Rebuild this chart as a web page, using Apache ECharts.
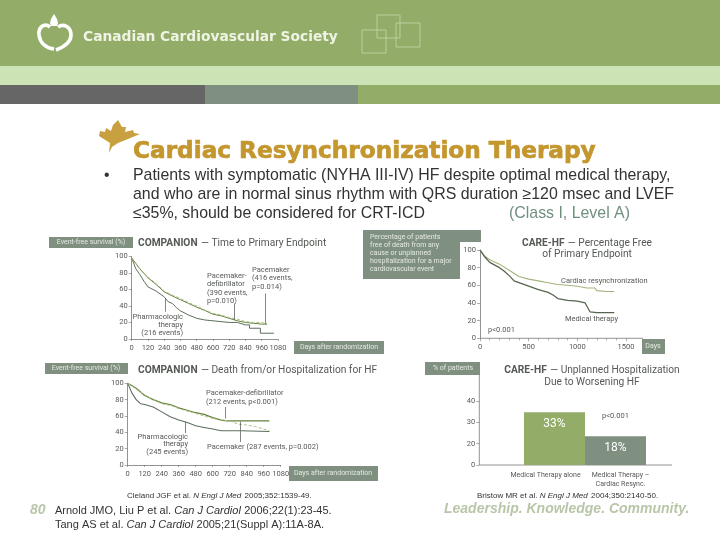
<!DOCTYPE html>
<html><head><meta charset="utf-8">
<style>html,body{margin:0;padding:0;background:#fff}#c{width:720px;height:540px}</style>
<script src="https://cdn.jsdelivr.net/npm/echarts@6/dist/echarts.min.js"></script>
</head><body><div id="c"></div>
<script>
// ---- data ----
const panelATicks = [0,120,240,360,480,600,720,840,960,1080];
const aDefib = [[0,98],[60,85],[120,74],[180,66],[240,57],[300,52],[360,47.5],[420,43],[480,38.5],[540,34.5],[600,30],[660,28],[720,25],[780,22],[840,20],[900,19],[960,18],[1000,18]];
const aPacer = [[0,98],[60,84],[120,75],[180,67],[240,58],[300,53],[360,49],[420,44],[480,40],[540,35],[600,31],[660,29],[720,26],[780,24],[840,21],[900,20],[960,20],[1000,18]];
const aPharm = [[0,98],[30,85],[60,78],[90,70],[120,63],[180,58],[240,51],[270,45],[300,43],[330,38],[360,34],[420,29],[480,25],[540,23],[600,22],[660,21],[720,20],[780,20],[840,17],[870,17],[870,13],[950,13],[950,7],[1050,7]];
const bDefib = [[0,100],[60,94],[120,85],[180,80],[240,76],[300,74],[360,70],[420,67],[480,64],[540,62],[600,58],[660,55],[700,54],[1000,54]];
const bPacer = [[0,100],[60,93],[120,86],[180,80],[240,75],[300,73],[360,69],[420,66],[480,63],[540,60],[600,57],[660,55],[720,54],[780,50],[840,49],[900,47],[960,44],[1000,42]];
const bPharm = [[0,100],[30,88],[60,80],[90,75],[120,74],[180,71],[240,65],[300,59],[360,55],[420,52],[480,48],[540,46],[600,44],[660,42],[800,42],[1000,41]];
const cCrt = [[0,100],[50,93],[100,89],[200,84],[300,77],[400,70],[500,67],[600,65],[700,63],[800,61],[900,60],[1000,59],[1100,57],[1180,57],[1200,54],[1300,53],[1380,53]];
const cMed = [[0,100],[50,92],[100,86],[200,80],[250,76],[300,71],[350,65],[400,63],[500,59],[600,55],[700,52],[750,49],[800,45],[900,43],[1000,42],[1080,40],[1110,34],[1130,30],[1200,29],[1380,29]];
const dCategories = ['', 'Medical Therapy alone', 'Medical Therapy –\nCardiac Resync.', ''];
const dValues = [null, 33, 18, null];
const dLabels = ['', '33%', '18%', ''];
const dTickLabels = ['0','20','30','40'];

const GREEN='#93ad69', SAGE='#7f9080', DARK='#5d6f5e', OLIVE='#64803f', LIGHT='#b0bf84', INK='#555a55';
const FONT='Roboto', AX={color:INK,fontSize:7.5,fontFamily:FONT,margin:5};

function gridAt(l,t,r,b){return {left:l,top:t,width:r-l,height:b-t,containLabel:false};}
function xVal(i,max,interval,extra){return Object.assign({type:'value',gridIndex:i,min:0,max,interval,splitLine:{show:false},
  axisLine:{onZero:false,lineStyle:{color:'#777',width:.8}},axisTick:{length:2,lineStyle:{color:'#777',width:.6}},axisLabel:Object.assign({},AX,{hideOverlap:false,formatter:v=>String(v)})},extra||{});}
function yVal(i){return {type:'value',gridIndex:i,min:0,max:100,interval:20,splitLine:{show:false},
  axisLine:{show:true,lineStyle:{color:'#777',width:.8}},axisTick:{show:true,length:3,lineStyle:{color:'#777',width:.6}},axisLabel:Object.assign({},AX,{margin:4})};}
function line(i,data,color,width,dash,leaders){return {type:'line',xAxisIndex:i,yAxisIndex:i,data,symbol:'none',silent:true,
  lineStyle:{color,width,type:dash?[3,2]:'solid'},
  markLine:leaders?{silent:true,symbol:'none',label:{show:false},lineStyle:{color:'#666',width:.8,type:'solid'},
    data:leaders.map(p=>[{coord:[p[0],p[1]]},{coord:[p[0],p[2]]}])}:undefined};}

const T=(x,y,text,o)=>({type:'text',x,y,silent:true,style:Object.assign({text,fill:INK,font:'7.5px '+FONT,textVerticalAlign:'middle',textAlign:'left'},o||{})});
const R=(x,y,w,h,fill)=>({type:'rect',silent:true,shape:{x,y,width:w,height:h},style:{fill}});
const L=(x1,y1,x2,y2,c,w)=>({type:'line',silent:true,shape:{x1,y1,x2,y2},style:{stroke:c||'#777',lineWidth:w||.8}});
const S=(x,y,w,h)=>({type:'rect',silent:true,shape:{x,y,width:w,height:h},style:{fill:'none',stroke:'#c6d6a8',lineWidth:.8}});
const B=(x1,y1,cpx1,cpy1,cpx2,cpy2,x2,y2)=>({type:'bezierCurve',silent:true,shape:{x1,y1,cpx1,cpy1,cpx2,cpy2,x2,y2},style:{fill:'none',stroke:'#fff',lineWidth:3.6}});
const BODY={font:'15.9px "Liberation Sans"',fill:'#333'};
const BOXT={fill:'#e4e9e2',font:'7px '+FONT};
const rich={a:{font:'8px "Liberation Sans"',fill:'#333'},b:{font:'italic 8px "Liberation Sans"',fill:'#333'},
  c:{font:'11px "Liberation Sans"',fill:'#333'},d:{font:'italic 11px "Liberation Sans"',fill:'#333'},
  v:{font:'bold 10.2px '+FONT,fill:INK},w:{font:'10.2px '+FONT,fill:INK}};

const graphic=[
  R(0,0,720,66,GREEN),R(0,66,720,19,'#cbe3b5'),R(0,85,205,19,'#666666'),R(205,85,153,19,SAGE),R(358,85,362,19,GREEN),
  S(362,30,24,23),S(377,15,23,23),S(396,23,24,24),
  B(50,27,44,22,38,28,39,35),B(39,35,40,43,46,48,54,49),
  B(58,27,64,23,71,27,71,35),B(71,35,71,43,64,47,56,50),
  {type:'polygon',silent:true,shape:{points:[[54,14],[57,19],[58,23],[57,26],[51,26],[50,23],[51,19]]},style:{fill:'#fff'}},
  T(83,37,'Canadian Cardiovascular Society',{font:'bold 13.8px "DejaVu Sans"',fill:'#eef3e4'}),
  {type:'polygon',silent:true,shape:{points:[[109,153],[110,143],[99,136],[100,131],[105,132],[106,128],[111,131],[113,125],[118,120],[122,127],[126,127],[125,132],[133,130],[134,133],[140,134],[128,139],[118,143],[112,147]]},style:{fill:'#c9a03f'}},
  T(133,152,'Cardiac Resynchronization Therapy',{font:'bold 23.2px "DejaVu Sans"',fill:'#c4962e',stroke:'#c4962e',lineWidth:.7}),
  T(104,176,'•',BODY),
  T(133,176,'Patients with symptomatic (NYHA III-IV) HF despite optimal medical therapy,',BODY),
  T(133,195,'and who are in normal sinus rhythm with QRS duration ≥120 msec and LVEF',BODY),
  T(133,214,'≤35%, should be considered for CRT-ICD',BODY),
  T(509,214,'(Class I, Level A)',Object.assign({},BODY,{fill:'#6f8f7f'})),
  // label boxes
  R(49,237,84,11,SAGE),R(294,341,90,13,SAGE),R(45,363,83,11,SAGE),R(289,466,89,15,SAGE),
  R(363,230,118,12,SAGE),R(363,242,97,37,SAGE),R(642,339,23,15,SAGE),R(425,362,55,13,SAGE),
  T(91,242.5,'Event-free survival (%)',Object.assign({textAlign:'center'},BOXT)),
  T(339,347.5,'Days after randomization',Object.assign({textAlign:'center'},BOXT)),
  T(86,368.5,'Event-free survival (%)',Object.assign({textAlign:'center'},BOXT)),
  T(333,473.5,'Days after randomization',Object.assign({textAlign:'center'},BOXT)),
  T(653,346.5,'Days',Object.assign({textAlign:'center'},BOXT)),
  T(453,368.5,'% of patients',Object.assign({textAlign:'center'},BOXT)),
  T(370,237,'Percentage of patients',BOXT),T(370,245,'free of death from any',BOXT),
  T(370,253,'cause or unplanned',BOXT),T(370,261,'hospitalization for a major',BOXT),T(370,269,'cardiovascular event',BOXT),
  // panel titles
  {type:'text',x:138,y:243,silent:true,style:{text:'{v|COMPANION} {w|— Time to Primary Endpoint}',rich,textVerticalAlign:'middle'}},
  {type:'text',x:138,y:370,silent:true,style:{text:'{v|COMPANION} {w|— Death from/or Hospitalization for HF}',rich,textVerticalAlign:'middle'}},
  {type:'text',x:587,y:243,silent:true,style:{text:'{v|CARE-HF} {w|— Percentage Free}',rich,textAlign:'center',textVerticalAlign:'middle'}},
  T(587,254,'of Primary Endpoint',{font:'10.2px '+FONT,textAlign:'center'}),
  {type:'text',x:592,y:370,silent:true,style:{text:'{v|CARE-HF} {w|— Unplanned Hospitalization}',rich,textAlign:'center',textVerticalAlign:'middle'}},
  T(592,382,'Due to Worsening HF',{font:'10.2px '+FONT,textAlign:'center'}),
  // annotations
  T(252,270,'Pacemaker'),T(252,278,'(416 events,'),T(252,287,'p=0.014)'),
  T(207,276,'Pacemaker-'),T(207,284,'defibrillator'),T(207,293,'(390 events,'),T(207,301,'p=0.010)'),
  T(183,317,'Pharmacologic',{textAlign:'right'}),T(183,325,'therapy',{textAlign:'right'}),T(183,333,'(216 events)',{textAlign:'right'}),
  T(206,393,'Pacemaker-defibrillator'),T(206,402,'(212 events, p<0.001)'),
  T(188,437,'Pharmacologic',{textAlign:'right'}),T(188,444,'therapy',{textAlign:'right'}),T(188,452,'(245 events)',{textAlign:'right'}),
  T(207,447,'Pacemaker (287 events, p=0.002)'),
  T(561,281,'Cardiac resynchronization'),T(565,319,'Medical therapy'),T(488,330,'p<0.001'),
  T(602,416,'p<0.001'),
  // axis extensions
  L(480,338.3,643,338.3),L(479.3,375,479.3,465),L(479.3,465,672,465),
  // footer
  {type:'text',x:127,y:496,silent:true,style:{text:'{a|Cleland JGF et al. }{b|N Engl J Med} {a|2005;352:1539-49.}',rich,textVerticalAlign:'middle'}},
  {type:'text',x:477,y:496,silent:true,style:{text:'{a|Bristow MR et al. }{b|N Engl J Med} {a|2004;350:2140-50.}',rich,textVerticalAlign:'middle'}},
  T(30,510,'80',{font:'italic bold 14px "Liberation Sans"',fill:'#b9c6a9'}),
  {type:'text',x:55,y:511,silent:true,style:{text:'{c|Arnold JMO, Liu P et al. }{d|Can J Cardiol} {c|2006;22(1):23-45.}',rich,textVerticalAlign:'middle'}},
  {type:'text',x:55,y:525,silent:true,style:{text:'{c|Tang AS et al. }{d|Can J Cardiol} {c|2005;21(Suppl A):11A-8A.}',rich,textVerticalAlign:'middle'}},
  T(444,509,'Leadership. Knowledge. Community.',{font:'italic bold 14px "Liberation Sans"',fill:'#b9c6a9'})
];

const option={animation:false,backgroundColor:'#fff',graphic,
  grid:[gridAt(131.7,256.3,278,339),gridAt(127.7,383.3,280.7,465),gridAt(480,250,626,338.3),gridAt(463,401,707,465)],
  xAxis:[
    xVal(0,panelATicks[panelATicks.length-1],120),
    xVal(1,panelATicks[panelATicks.length-1],120),
    xVal(2,1500,500,{axisLine:{show:false},axisTick:{length:3,lineStyle:{color:'#777',width:.6}},minorTick:{show:true,splitNumber:5,length:2,lineStyle:{color:'#777',width:.6}}}),
    {type:'category',gridIndex:3,axisLine:{show:false},axisTick:{show:false},
     data:dCategories.map((c,i)=>({value:c,textStyle:{padding:i===1?[0,18,0,0]:i===2?[0,0,0,10]:0}})),
     axisLabel:Object.assign({},AX,{fontSize:7,interval:0,margin:6,lineHeight:9})}
  ],
  yAxis:[yVal(0),yVal(1),yVal(2),
    {type:'value',gridIndex:3,min:0,max:40,interval:40/3,offset:-16.3,splitLine:{show:false},
     axisLine:{show:false},axisTick:{show:true,length:3,lineStyle:{color:'#777',width:.6}},
     axisLabel:Object.assign({},AX,{margin:4,formatter:(v,i)=>dTickLabels[i]})}
  ],
  series:[
    line(0,aPharm,DARK,1,false,[[245,49,33],[756,43,23],[987,55,18]]),
    line(0,aDefib,OLIVE,1),
    line(0,aPacer,LIGHT,1,true),
    line(1,bPharm,DARK,1.1,false,[[409,53,39],[687,71,57],[793,53,28]]),
    line(1,bDefib,OLIVE,1.2),
    line(1,bPacer,LIGHT,1,true),
    line(2,cCrt,'#a3b47c',1.1),
    line(2,cMed,'#56654f',1.3),
    {type:'bar',xAxisIndex:3,yAxisIndex:3,barWidth:'100%',data:dValues,silent:true,
     itemStyle:{color:p=>p.dataIndex===1?GREEN:SAGE},
     label:{show:true,position:'insideTop',distance:6,color:'#fff',fontSize:12,fontFamily:FONT,formatter:p=>dLabels[p.dataIndex]}}
  ]};
echarts.init(document.getElementById('c'),null,{renderer:'canvas'}).setOption(option);
</script></body></html>
